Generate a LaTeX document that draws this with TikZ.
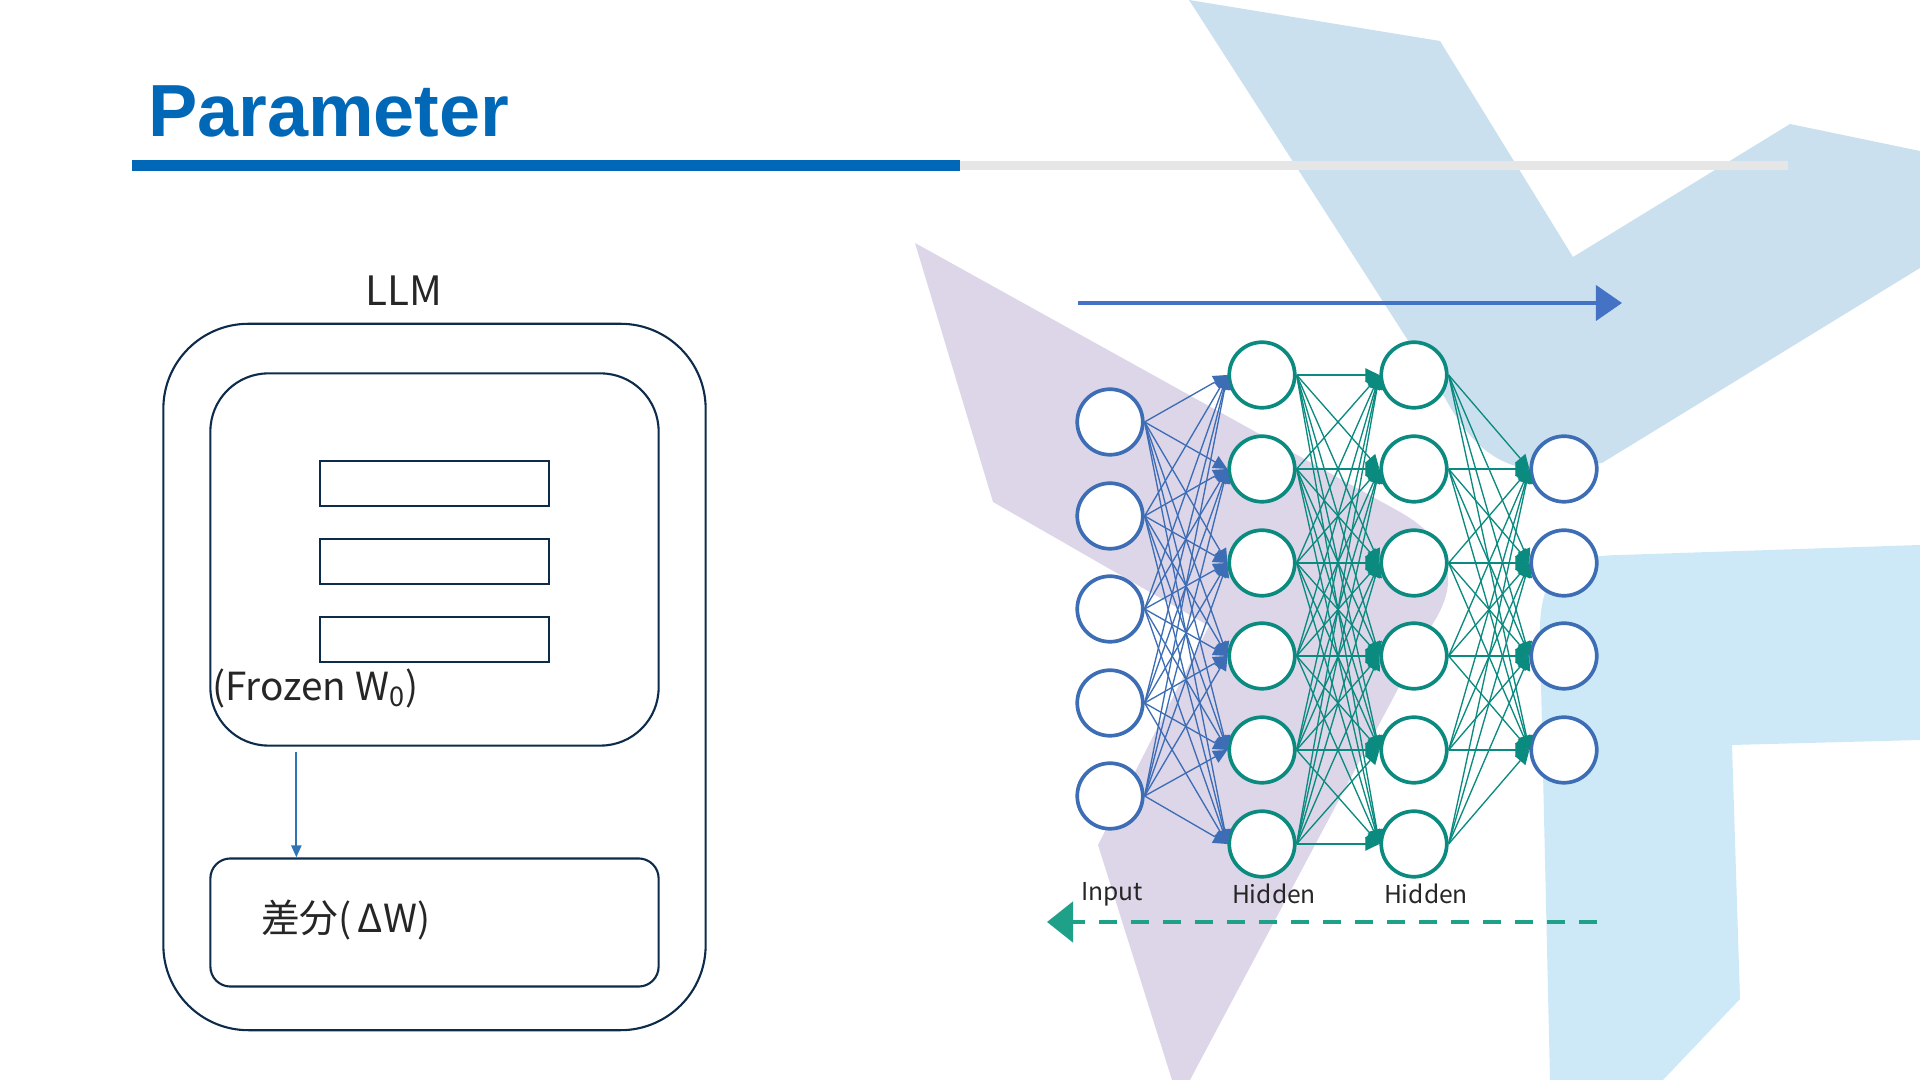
\documentclass[tikz,border=0pt]{standalone}
\usepackage{fontspec}
\setmainfont{Noto Sans CJK JP}
\newfontfamily\headfont{Liberation Sans}
\usetikzlibrary{arrows.meta, positioning}
\definecolor{ctitle}{HTML}{0068B7}
\definecolor{cbar}{HTML}{E6E6E6}
\definecolor{cnavy}{HTML}{0D2B4A}
\definecolor{clink}{HTML}{2F75B5}
\definecolor{cnetblue}{HTML}{3D6DB5}
\definecolor{cteal}{HTML}{0B8A7F}
\definecolor{cfwd}{HTML}{4472C4}
\definecolor{cback}{HTML}{1FA089}
\definecolor{cbgblue}{HTML}{CBE0EF}
\definecolor{cbgcyan}{HTML}{CDE9F7}
\definecolor{cbgpurple}{HTML}{DDD6E9}
\tikzset{
  every picture/.style={line width=0.6pt},
  frame/.style={draw=cnavy, line width=0.6pt, rounded corners=#1, inner sep=0pt},
  frame/.default=0.2cm,
  layerbox/.style={draw=cnavy, line width=0.6pt, minimum width=2.29cm, minimum height=0.45cm, inner sep=0pt},
  neuron/.style={circle, draw=#1, fill=white, line width=1.05pt, minimum size=0.655cm, inner sep=0pt},
  synapse/.style={draw=#1, line width=0.38pt, -{Triangle[length=4pt, width=3.8pt]}},
  bigarrow/.style={-{Triangle[length=0.26cm, width=#1]}},
  txt/.style={font=\fontsize{11}{13}\selectfont, text=black!85, inner sep=0pt},
  lbl/.style={font=\fontsize{7}{8}\selectfont, text=black!85, inner sep=0pt},
}

\begin{document}
\begin{tikzpicture}[x=0.01cm, y=-0.01cm]
  \useasboundingbox (0,0) rectangle (1920,1080);
  % background shapes
  \fill[cbgblue] (1189,0) -- (1440,41) -- (1573,257) -- (1790,124) -- (1920,151) -- (1920,268)
    -- (1602,463) -- (1545,470) .. controls (1495,470) and (1468,440) .. (1445,398) -- cycle;
  \fill[cbgcyan] (1550,1080) -- (1540,640) .. controls (1538,572) and (1562,556) .. (1620,555)
    -- (1920,545) -- (1920,740) -- (1732,745) -- (1740,999) -- (1663,1080) -- cycle;
  \fill[cbgpurple] (915,243) -- (1400,512) .. controls (1450,540) and (1462,580) .. (1432,625)
    -- (1190,1080) -- (1172,1080) -- (1098,845) -- (1209,626) -- (993,502) -- cycle;

  % title and rule
  \node[anchor=base west, inner sep=0pt, text=ctitle, font=\headfont\bfseries\fontsize{21}{24}\selectfont] (title) at (147,137) {Parameter};
  \fill[ctitle] (132,160) rectangle (960,171);
  \fill[cbar] (960,161) rectangle (1788,170);

  % LLM with frozen weights and the difference
  \node[txt, font=\fontsize{11.5}{13}\selectfont] (llmlabel) at (404,291) {LLM};
  \node[frame=0.85cm, minimum width=5.42cm, minimum height=7.06cm] (llm) at (434.5,677) {};
  \node[frame=0.58cm, minimum width=4.48cm, minimum height=3.72cm] (frozen) at (434.5,559.5) {};
  \node[layerbox] (w1) at (434.5,483.5) {};
  \node[layerbox, below=0.31cm of w1] (w2) {};
  \node[layerbox, below=0.31cm of w2] (w3) {};
  \node[txt, anchor=west] (frozenlabel) at (211,688) {(Frozen W\textsubscript{0})};
  \node[frame=0.2cm, minimum width=4.48cm, minimum height=1.28cm] (delta) at (434.5,922.5) {};
  \node[txt, anchor=west] (deltalabel) at (260,920) {差分(\,ΔW)};
  \draw[clink, line width=0.6pt, -{Triangle[length=0.12cm, width=0.1cm]}]
    ([xshift=0.87cm, yshift=-0.05cm]frozen.south west) -- ([xshift=0.87cm]delta.north west);

  % network
  \foreach \i/\y in {1/422, 2/516, 3/609, 4/703, 5/796}
    \node[neuron=cnetblue] (in\i) at (1110,\y) {};
  \foreach \i/\y in {1/375, 2/469, 3/563, 4/656, 5/750, 6/844} {
    \node[neuron=cteal] (ha\i) at (1262,\y) {};
    \node[neuron=cteal] (hb\i) at (1414,\y) {};
  }
  \foreach \i/\y in {1/469, 2/563, 3/656, 4/750}
    \node[neuron=cnetblue] (out\i) at (1564,\y) {};
  \foreach \i in {1,...,5} \foreach \j in {1,...,6} \draw[synapse=cnetblue] (in\i.east) -- (ha\j.west);
  \foreach \i in {1,...,6} \foreach \j in {1,...,6} \draw[synapse=cteal] (ha\i.east) -- (hb\j.west);
  \foreach \i in {1,...,6} \foreach \j in {1,...,4} \draw[synapse=cteal] (hb\i.east) -- (out\j.west);
  \node[lbl] (inlabel) at (1112,894) {Input};
  \node[lbl] (halabel) at (1274,894) {Hidden};
  \node[lbl] (hblabel) at (1426,894) {Hidden};

  % forward and backward passes
  \coordinate (fwdtail) at (1078,303);
  \coordinate (fwdhead) at (1622,303);
  \draw[bigarrow=0.35cm, cfwd, line width=1.1pt] (fwdtail) -- (fwdhead);
  \coordinate (backtail) at (1597,922);
  \coordinate (backhead) at (1047,922);
  \draw[bigarrow=0.4cm, cback, line width=1.4pt, dash pattern=on 5.2pt off 3.9pt] (backtail) -- (backhead);
\end{tikzpicture}
\end{document}
